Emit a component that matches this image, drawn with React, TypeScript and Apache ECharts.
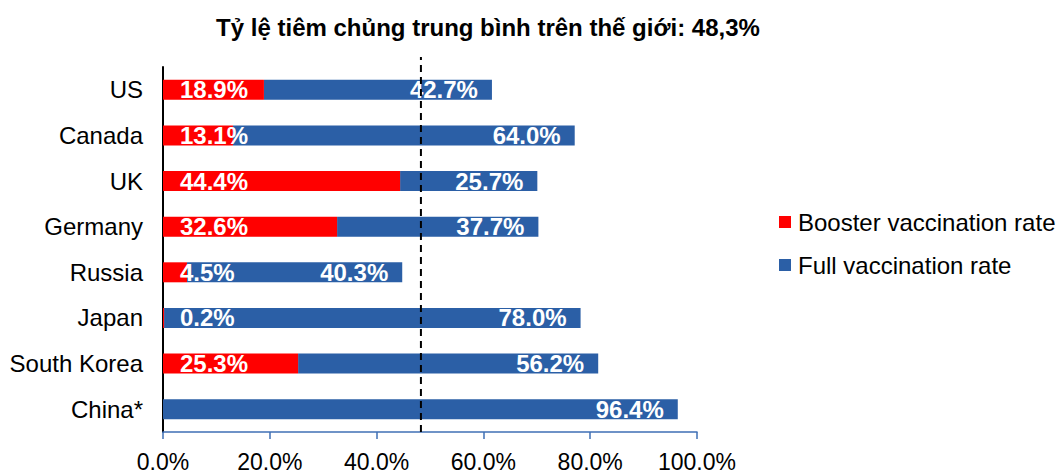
import React, { useEffect, useRef } from "react";
import * as echarts from "echarts";

const TITLE = "Tỷ lệ tiêm chủng trung bình trên thế giới: 48,3%";
const countries = ["US", "Canada", "UK", "Germany", "Russia", "Japan", "South Korea", "China*"];
const boosterRate = [18.9, 13.1, 44.4, 32.6, 4.5, 0.2, 25.3, 0];
const fullRate = [42.7, 64.0, 25.7, 37.7, 40.3, 78.0, 56.2, 96.4];
const WORLD_AVERAGE = 48.3;
const xTicks = [0, 20, 40, 60, 80, 100];

const FONT = "'Liberation Sans', Arial, Helvetica, sans-serif";
const RED = "#FF0000";
const BLUE = "#2B5FA6";

const pct = (v: number) => v.toFixed(1) + "%";

export default function App() {
  const ref = useRef<HTMLDivElement>(null);

  useEffect(() => {
    if (!ref.current) return;
    const chart = echarts.init(ref.current, null, { renderer: "svg" });

    const labelStyle = {
      show: true,
      color: "#fff",
      fontFamily: FONT,
      fontSize: 24,
      fontWeight: "bold" as const,
    };

    chart.setOption({
      animation: false,
      backgroundColor: "#fff",
      textStyle: { fontFamily: FONT },
      title: {
        text: TITLE,
        left: 483,
        textAlign: "center",
        top: 10,
        textStyle: { fontFamily: FONT, fontSize: 24, fontWeight: "bold", color: "#000" },
      },
      legend: {
        data: ["Booster vaccination rate", "Full vaccination rate"],
        orient: "vertical",
        left: 779,
        top: 210,
        padding: 0,
        itemWidth: 12,
        itemHeight: 12,
        itemGap: 19,
        icon: "rect",
        textStyle: { fontFamily: FONT, fontSize: 24, color: "#000", padding: [0, 0, 0, 2] },
      },
      grid: [
        { left: 163, right: 367, top: 67, bottom: 41 },
        { left: 163, right: 367, top: 57, bottom: 41 },
      ],
      xAxis: [
        {
          type: "value",
          gridIndex: 0,
          min: xTicks[0],
          max: xTicks[xTicks.length - 1],
          interval: 20,
          splitLine: { show: false },
          axisLine: { show: true, lineStyle: { color: "#3F6FB5", width: 1.5 } },
          axisTick: { show: true, length: 7, lineStyle: { color: "#3F6FB5", width: 1.5 } },
          axisLabel: {
            color: "#000",
            fontFamily: FONT,
            fontSize: 23,
            margin: 18,
            formatter: (v: number) => pct(v),
          },
        },
        {
          type: "value",
          gridIndex: 1,
          min: 0,
          max: 100,
          show: false,
        },
      ],
      yAxis: [
        {
          type: "category",
          gridIndex: 0,
          data: countries,
          inverse: true,
          axisLine: { show: true, lineStyle: { color: "#000", width: 2 } },
          axisTick: { show: false },
          axisLabel: { color: "#000", fontFamily: FONT, fontSize: 24, margin: 20 },
        },
        {
          type: "value",
          gridIndex: 1,
          min: 0,
          max: 1,
          show: false,
        },
      ],
      series: [
        {
          name: "Booster vaccination rate",
          type: "bar",
          stack: "rate",
          z: 3,
          barWidth: 20,
          itemStyle: { color: RED },
          data: boosterRate,
          label: {
            ...labelStyle,
            position: "insideLeft",
            distance: 17,
            formatter: (p: any) => (p.value > 0 ? pct(p.value) : ""),
          },
        },
        {
          name: "Full vaccination rate",
          type: "bar",
          stack: "rate",
          z: 2,
          barWidth: 20,
          itemStyle: { color: BLUE },
          data: fullRate,
          label: {
            ...labelStyle,
            position: "insideRight",
            distance: 14,
            formatter: (p: any) => pct(p.value),
          },
        },
        {
          name: "World average",
          type: "line",
          xAxisIndex: 1,
          yAxisIndex: 1,
          z: 5,
          symbol: "none",
          silent: true,
          lineStyle: { color: "#000", width: 2, type: [7, 5] },
          data: [
            [WORLD_AVERAGE, 0],
            [WORLD_AVERAGE, 1],
          ],
        },
      ],
    });

    return () => chart.dispose();
  }, []);

  return (
    <div
      ref={ref}
      style={{ position: "absolute", left: 0, top: 0, width: 1064, height: 473 }}
    />
  );
}
